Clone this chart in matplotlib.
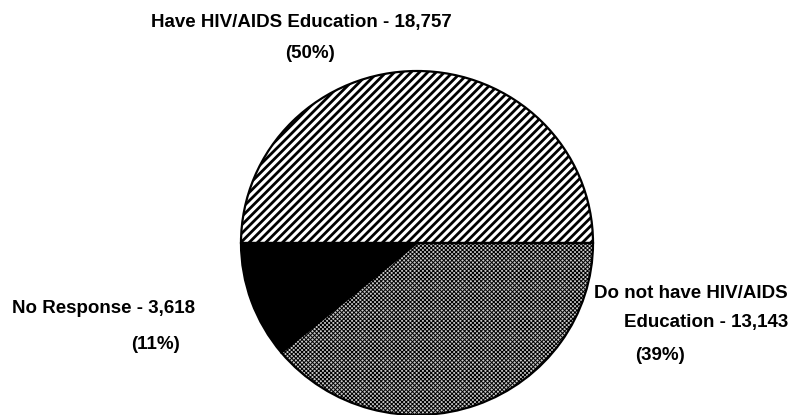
"""
Pie chart: HIV/AIDS education status of respondents.
"""

import matplotlib
matplotlib.use("Agg")
import matplotlib.pyplot as plt

# Data
categories = ["Have HIV/AIDS Education", "No Response", "Do not have HIV/AIDS Education"]
counts = [18757, 3618, 13143]
percents = [50, 11, 39]

plt.rcParams["font.family"] = ["Liberation Sans", "DejaVu Sans"]
plt.rcParams["hatch.linewidth"] = 2.0
plt.rcParams["hatch.color"] = "black"

W, H = 793, 415
fig = plt.figure(figsize=(W / 100, H / 100), dpi=100)
fig.patch.set_facecolor("white")

# pie box in pixels: centre (417, 243), radii 176 x 172
cx, cy, rx, ry = 417, 243, 176, 172
ax = fig.add_axes([(cx - rx) / W, (H - cy - ry) / H, 2 * rx / W, 2 * ry / H])

wedges, _ = ax.pie(
    percents,
    startangle=0,
    counterclock=True,
    radius=1.0,
    colors=["white", "black", "#c8c8c8"],
    wedgeprops=dict(edgecolor="black", linewidth=1.6),
)
wedges[0].set_hatch("////")
wedges[2].set_hatch("xxxxxxxx")
if hasattr(wedges[2], "set_hatch_linewidth"):
    wedges[2].set_hatch_linewidth(0.7)
    wedges[0].set_hatch_linewidth(2.0)
for w in wedges:
    w.set_clip_on(False)

ax.set_xlim(-1, 1)
ax.set_ylim(-1, 1)
ax.set_aspect("auto")
ax.axis("off")

fs = 13.5
style = dict(fontsize=fs, fontweight="bold", va="center", color="black")


def px(x, y):
    return x / W, 1 - y / H


# labels: name - count, then (percent)
fig.text(*px(301, 23), f"{categories[0]} - {counts[0]:,}", ha="center", **style)
fig.text(*px(310, 53), f"({percents[0]}%)", ha="center", **style)

fig.text(*px(12, 308), f"{categories[1]} - {counts[1]:,}", ha="left", **style)
fig.text(*px(155, 344), f"({percents[1]}%)", ha="center", **style)

fig.text(*px(788, 293), "Do not have HIV/AIDS", ha="right", **style)
fig.text(*px(788, 322), f"Education - {counts[2]:,}", ha="right", **style)
fig.text(*px(660, 355), f"({percents[2]}%)", ha="center", **style)

fig.savefig("out.png", dpi=100, facecolor="white")
plt.close("all")
